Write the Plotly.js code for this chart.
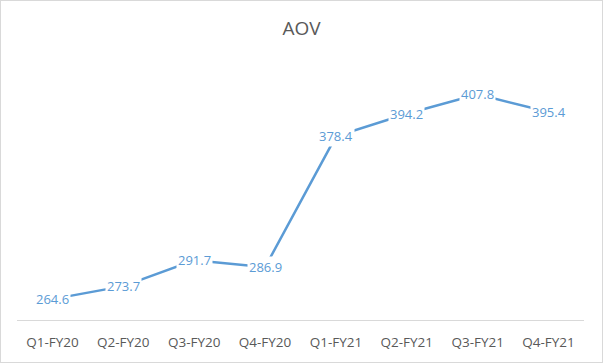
<!DOCTYPE html>
<html>
<head>
<meta charset="utf-8">
<script src="https://cdn.plot.ly/plotly-3.0.1.min.js"></script>
<style>
  html, body { margin: 0; padding: 0; background: #fff; }
  #wrap { position: relative; width: 603px; height: 363px; }
  #chart { position: absolute; left: 0; top: 0; width: 603px; height: 363px; }
  #frame { position: absolute; left: 0; top: 0; width: 601px; height: 361px; border: 1px solid #d9d9d9; pointer-events: none; }
</style>
</head>
<body>
<div id="wrap">
  <div id="chart"></div>
  <div id="frame"></div>
</div>
<script>
const categories = ["Q1-FY20", "Q2-FY20", "Q3-FY20", "Q4-FY20", "Q1-FY21", "Q2-FY21", "Q3-FY21", "Q4-FY21"];
const aov = [264.6, 273.7, 291.7, 286.9, 378.4, 394.2, 407.8, 395.4];

const lineColor = "#5b9bd5";

const trace = {
  type: "scatter",
  mode: "lines",
  x: categories,
  y: aov,
  line: { color: lineColor, width: 2.5 },
  hoverinfo: "x+y"
};

const annotations = categories.map((c, i) => ({
  x: c,
  y: aov[i],
  xref: "x",
  yref: "y",
  text: aov[i].toFixed(1),
  showarrow: false,
  bgcolor: "#ffffff",
  borderpad: 1,
  font: { family: "Open Sans, Noto Sans, sans-serif", size: 13, color: lineColor }
}));

const layout = {
  width: 603,
  height: 363,
  margin: { l: 17, r: 19, t: 34, b: 43 },
  paper_bgcolor: "#ffffff",
  plot_bgcolor: "#ffffff",
  showlegend: false,
  title: {
    text: "AOV",
    x: 0.5,
    xanchor: "center",
    y: 0.922,
    yanchor: "middle",
    font: { family: "Open Sans, Noto Sans, sans-serif", size: 19, color: "#595959" }
  },
  xaxis: {
    type: "category",
    range: [-0.5, categories.length - 0.5],
    showgrid: false,
    zeroline: false,
    showline: true,
    linecolor: "#d9d9d9",
    linewidth: 1,
    ticks: "",
    ticklabelstandoff: 10,
    tickfont: { family: "Open Sans, Noto Sans, sans-serif", size: 13.5, color: "#595959" },
    fixedrange: true
  },
  yaxis: {
    range: [250, 450],
    visible: false,
    showgrid: false,
    zeroline: false,
    fixedrange: true
  },
  annotations: annotations
};

Plotly.newPlot("chart", [trace], layout, { displayModeBar: false, staticPlot: true });
</script>
</body>
</html>
